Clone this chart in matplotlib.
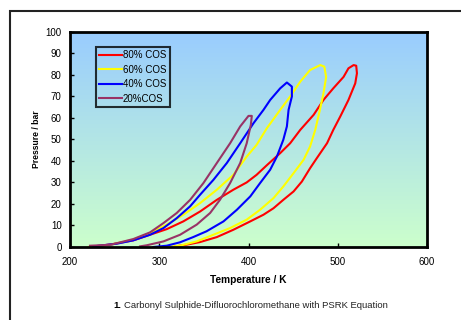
import numpy as np
import matplotlib
matplotlib.use("Agg")
import matplotlib.pyplot as plt
from matplotlib.patches import Rectangle

plt.rcParams['font.family'] = ['Liberation Sans', 'DejaVu Sans']

# 80% COS  (bubble branch then dew branch, closed loop)
t80 = [221.7, 233.6, 248.6, 271, 289.7, 308.4, 327, 345.8, 364.5, 383, 398, 409, 420.6,
       435.5, 446.7, 458, 473, 484, 495, 506.5, 512, 517.8, 520.7,
       521.5, 519.6, 512, 502.8, 495, 488, 476.6, 469, 459.8, 450.5, 439, 428, 416.8,
       402, 383, 364.5, 345.8, 330.8, 317.8]
p80 = [0, 0.6, 1.4, 3.1, 5.7, 8.3, 11.9, 16.5, 21.9, 26.6, 30, 33.5, 38,
       43.6, 48.2, 54.4, 61.4, 68.3, 73.7, 79, 83, 84.5, 84.2,
       80.7, 76, 68.3, 60.6, 54.4, 48.2, 41.3, 36.6, 30.4, 25.8, 21.9, 18, 15,
       11.9, 8, 4.6, 2.3, 1.1, 0.3]

# 60% COS
t60 = [220.6, 245, 271, 289.7, 308.4, 327, 345.8, 364.5, 383, 398, 409, 420.6, 435.5,
       446.7, 458, 469, 480.4, 484.9,
       487, 484, 480, 474.8, 469, 461.7, 450.5, 439, 428, 413, 398, 379.4, 360.7,
       342, 323, 308]
p60 = [0, 1, 3.4, 6.5, 10.4, 15, 20.4, 26.6, 33.5, 42, 47.4, 55.2, 63.7,
       69.9, 76.8, 82.2, 84.5, 83.8,
       79, 71.4, 63.7, 54.4, 46.7, 40.5, 34.3, 28.1, 22.7, 17.3, 12.7, 8.8, 5.7,
       2.6, 0.6, 0]

# 40% COS
t40 = [226, 252, 271, 289.7, 304.7, 319.6, 334.6, 345.8, 360.7, 375.7, 390.7, 405.6,
       416.8, 424.3, 435.5, 443,
       448.6, 448.6, 444.9, 443, 439, 431.8, 424.3, 413, 402, 387, 372, 353, 338,
       323.4, 308.4, 293.5]
p40 = [0.3, 1.5, 3.1, 5.7, 8.8, 13.4, 18.9, 24.3, 31.2, 39, 48.2, 57.5,
       63.7, 68.3, 73.7, 76.4,
       74.5, 69.9, 63.7, 56, 49.8, 42, 35.9, 29.7, 23.5, 17.3, 11.9, 7.3, 4.6,
       2.2, 0.6, 0]

# 20% COS
t20 = [222.4, 245, 271, 289.7, 304.7, 319.6, 334.6, 349.5, 364.5, 379.4, 390.7, 400,
       403.7,
       402.6, 398, 390.7, 379.4, 368, 357, 342, 323.4, 304.7, 286, 278.5]
p20 = [0.6, 1, 3.7, 6.8, 11.1, 15.8, 21.9, 29.7, 39, 48.2, 56, 60.9,
       60.9,
       56.7, 48.2, 39, 29.7, 21.9, 15.8, 10.4, 5.7, 2.6, 0.8, 0.3]

labels = ["80% COS", "60% COS", "40% COS", "20%COS"]
colors = ["#FF0000", "#FFFF00", "#0000FF", "#993366"]

fig = plt.figure(figsize=(4.61, 3.2), dpi=100)
ax = fig.add_axes([70 / 461, 1 - 247 / 320, 357 / 461, 215.3 / 320])

# outer frame of the picture
fig.patches.append(Rectangle((10 / 461, -0.1), 1.2, (320 - 11) / 320 + 0.1,
                             transform=fig.transFigure, fill=False,
                             edgecolor="#222222", linewidth=1.5))

# gradient background blue -> green
top = np.array([0x99, 0xCC, 0xFF]) / 255
bot = np.array([0xCC, 0xFF, 0xCC]) / 255
g = np.linspace(0, 1, 256)[:, None]
grad = (top[None, :] * (1 - g) + bot[None, :] * g)[:, None, :]
ax.imshow(grad, extent=[200, 600, 0, 100], aspect="auto", zorder=0)

for t, p, lab, c in zip([t80, t60, t40, t20], [p80, p60, p40, p20], labels, colors):
    ax.plot(t, p, color=c, linewidth=1.5, label=lab, zorder=2)

ax.set_xlim(200, 600)
ax.set_ylim(0, 100)
ax.set_xticks([200, 300, 400, 500, 600])
ax.set_yticks(range(0, 101, 10))
ax.tick_params(direction="in", length=3, width=1, labelsize=7, colors="black")
ax.tick_params(axis="x", pad=7)
ax.tick_params(axis="y", pad=6)
for s in ax.spines.values():
    s.set_linewidth(2)

ax.set_xlabel("Temperature / K", fontsize=7.3, fontweight="bold", labelpad=6)
ax.set_ylabel("Pressure / bar", fontsize=6.2, fontweight="bold", labelpad=3)

leg = ax.legend(loc="upper left", bbox_to_anchor=(0.073, 0.929), borderaxespad=0,
                fontsize=7, frameon=True, fancybox=False, handlelength=2.3,
                handletextpad=0.1, labelspacing=0.45, borderpad=0.35)
leg.get_frame().set_edgecolor("black")
leg.get_frame().set_linewidth(1.5)
leg.get_frame().set_facecolor("none")

fig.text(113 / 461, 1 - 305 / 320, "1.", fontsize=6.8, fontweight="bold", va="center")
fig.text(124 / 461, 1 - 305 / 320, "Carbonyl Sulphide-Difluorochloromethane with PSRK Equation",
         fontsize=6.8, va="center", color="#222222")

fig.savefig("out.png", dpi=100)
